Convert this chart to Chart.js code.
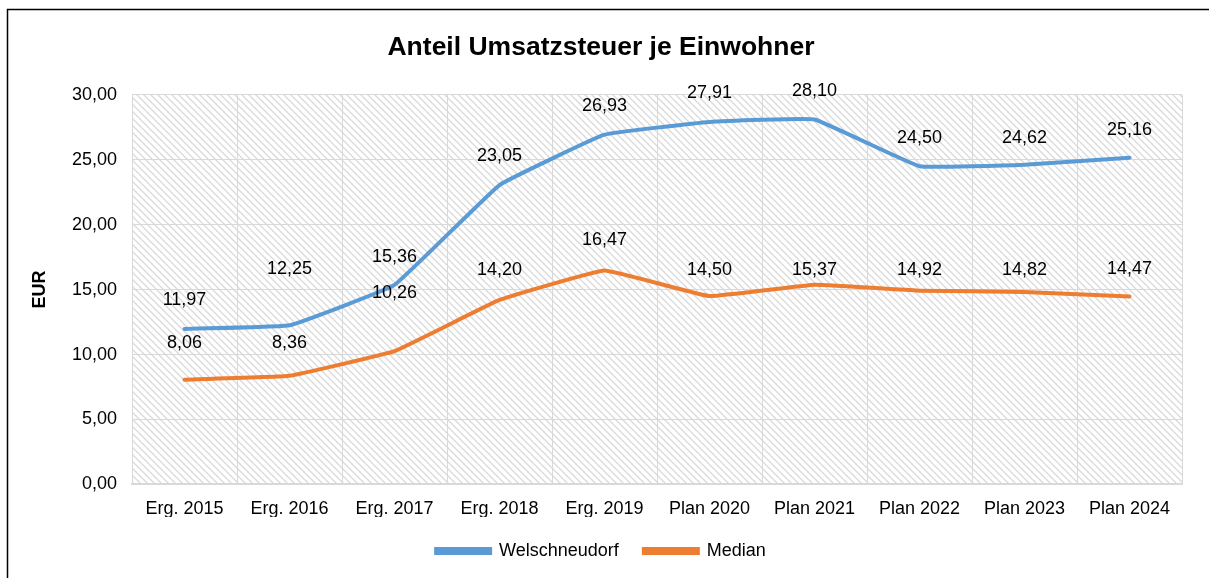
<!DOCTYPE html>
<html>
<head>
<meta charset="utf-8">
<script src="https://cdn.jsdelivr.net/npm/chart.js@4.4.1/dist/chart.umd.min.js"></script>
<style>
  html, body { margin: 0; padding: 0; background: #fff; }
  #wrap { position: relative; width: 1209px; height: 578px; }
</style>
</head>
<body>
<div id="wrap"><canvas id="chart"></canvas></div>
<script>
const categories = ["Erg. 2015", "Erg. 2016", "Erg. 2017", "Erg. 2018", "Erg. 2019",
  "Plan 2020", "Plan 2021", "Plan 2022", "Plan 2023", "Plan 2024"];
const welschneudorf = [11.97, 12.25, 15.36, 23.05, 26.93, 27.91, 28.10, 24.50, 24.62, 25.16];
const median = [8.06, 8.36, 10.26, 14.20, 16.47, 14.50, 15.37, 14.92, 14.82, 14.47];
const yTicks = [0, 5, 10, 15, 20, 25, 30];

const fmt = v => v.toFixed(2).replace(".", ",");

// hatch pattern for the plot area
function makeHatch() {
  const s = 7;
  const c = document.createElement("canvas");
  c.width = s; c.height = s;
  const g = c.getContext("2d");
  g.fillStyle = "#ffffff";
  g.fillRect(0, 0, s, s);
  g.strokeStyle = "#d9d9d9";
  g.lineWidth = 1.3;
  g.beginPath();
  g.moveTo(-1, -1); g.lineTo(s + 1, s + 1);
  g.moveTo(-1, s - 1); g.lineTo(1, s + 1);
  g.moveTo(s - 1, -1); g.lineTo(s + 1, 1);
  g.stroke();
  return g.createPattern(c, "repeat");
}

const hatchPlugin = {
  id: "hatch",
  beforeDraw(chart) {
    const { ctx, chartArea: a } = chart;
    ctx.save();
    ctx.fillStyle = makeHatch();
    ctx.fillRect(a.left, a.top, a.right - a.left, a.bottom - a.top);
    // outer frame (only top and left visible)
    ctx.strokeStyle = "#000";
    ctx.lineWidth = 1.5;
    ctx.beginPath();
    ctx.moveTo(7.5, 600); ctx.lineTo(7.5, 9.5); ctx.lineTo(1300, 9.5);
    ctx.stroke();
    ctx.restore();
  }
};

// value labels above the points
const valueLabels = {
  id: "valueLabels",
  afterDatasetsDraw(chart, args, opts) {
    const { ctx } = chart;
    ctx.save();
    ctx.font = "18px 'Liberation Sans', Arial, sans-serif";
    ctx.fillStyle = "#000";
    ctx.textAlign = "center";
    ctx.textBaseline = "middle";
    chart.data.datasets.forEach((ds, i) => {
      const meta = chart.getDatasetMeta(i);
      const offs = opts.offsets[i];
      meta.data.forEach((pt, j) => {
        ctx.fillText(fmt(ds.data[j]), pt.x, pt.y - offs[j]);
      });
    });
    ctx.restore();
  }
};

new Chart(document.getElementById("chart"), {
  type: "line",
  data: {
    labels: categories,
    datasets: [
      {
        label: "Welschneudorf",
        data: welschneudorf,
        borderColor: "#5B9BD5",
        backgroundColor: "#5B9BD5",
        borderWidth: 4,
        pointRadius: 0,
        tension: 0.08,
        borderCapStyle: "round"
      },
      {
        label: "Median",
        data: median,
        borderColor: "#ED7D31",
        backgroundColor: "#ED7D31",
        borderWidth: 4,
        pointRadius: 0,
        tension: 0.08,
        borderCapStyle: "round"
      }
    ]
  },
  options: {
    responsive: true,
    maintainAspectRatio: false,
    animation: false,
    layout: { padding: { left: 20, right: 27, top: 0, bottom: 8 } },
    scales: {
      x: {
        offset: true,
        afterFit: axis => { axis.height = axis.height - 17; },
        grid: { color: "#d9d9d9", offset: true, drawTicks: false, lineWidth: 1 },
        border: { color: "#d9d9d9", width: 2 },
        ticks: {
          color: "#000",
          padding: 14,
          maxRotation: 0,
          font: { family: "'Liberation Sans', Arial, sans-serif", size: 18 }
        }
      },
      y: {
        min: 0,
        max: 30,
        afterBuildTicks: axis => { axis.ticks = yTicks.map(v => ({ value: v })); },
        afterFit: axis => { axis.width = 112; },
        grid: { color: "#d9d9d9", drawTicks: false },
        border: { display: false },
        ticks: {
          color: "#000",
          padding: 15,
          callback: v => fmt(v),
          font: { family: "'Liberation Sans', Arial, sans-serif", size: 18 }
        },
        title: {
          display: true,
          text: "EUR",
          color: "#000",
          padding: { top: 9, bottom: 0 },
          font: { family: "'Liberation Sans', Arial, sans-serif", size: 18, weight: "bold" }
        }
      }
    },
    plugins: {
      title: {
        display: true,
        text: "Anteil Umsatzsteuer je Einwohner",
        color: "#000",
        padding: { top: 32, bottom: 31 },
        font: { family: "'Liberation Sans', Arial, sans-serif", size: 26.5, weight: "bold" }
      },
      legend: {
        position: "bottom",
        labels: {
          color: "#000",
          boxWidth: 54,
          boxHeight: 4,
          padding: 25,
          font: { family: "'Liberation Sans', Arial, sans-serif", size: 18 }
        }
      },
      tooltip: { enabled: false },
      valueLabels: {
        offsets: [
          [29, 56, 28, 29, 29, 29, 28, 28, 27, 28],
          [37, 33, 58, 30, 30, 26, 15, 21, 22, 27]
        ]
      }
    }
  },
  plugins: [hatchPlugin, valueLabels]
});
</script>
</body>
</html>
